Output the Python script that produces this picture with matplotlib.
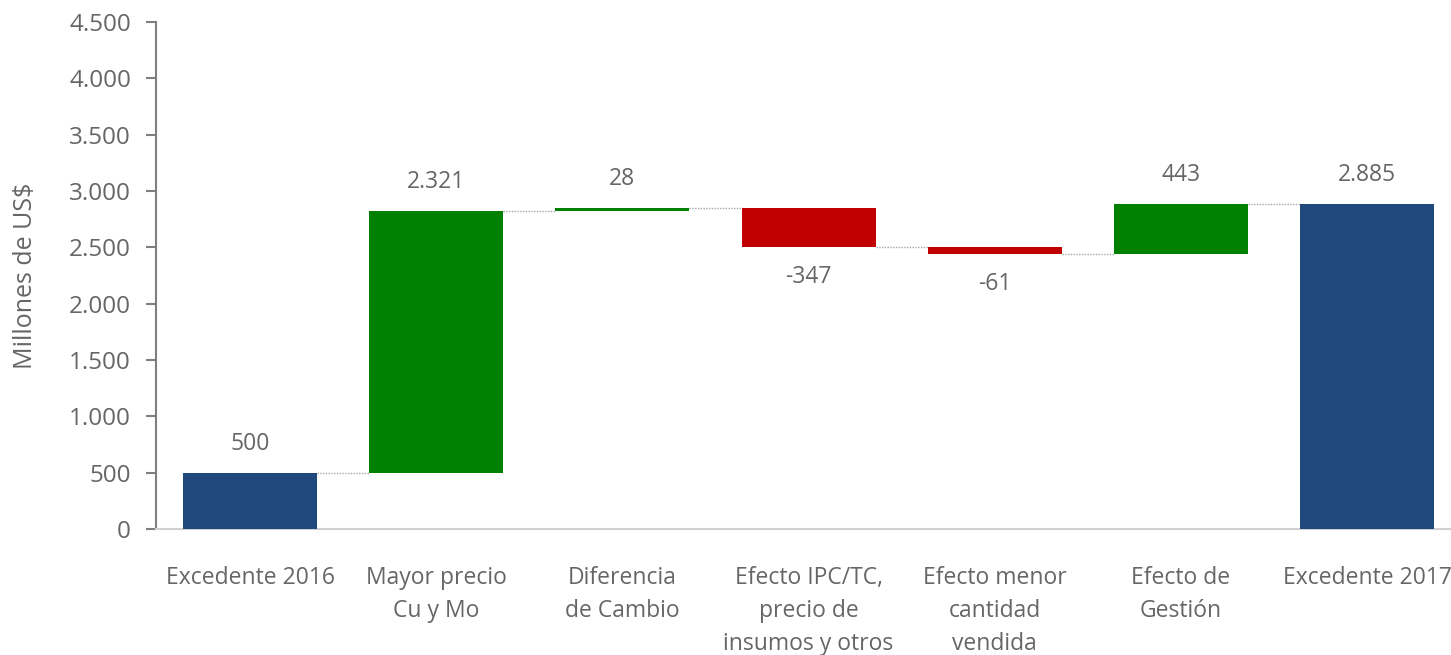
import matplotlib.pyplot as plt
from matplotlib.ticker import FuncFormatter

categories = [
    "Excedente 2016",
    "Mayor precio\nCu y Mo",
    "Diferencia\nde Cambio",
    "Efecto IPC/TC,\nprecio de\ninsumos y otros",
    "Efecto menor\ncantidad\nvendida",
    "Efecto de\nGestión",
    "Excedente 2017",
]
values = [500, 2321, 28, -347, -61, 443, 2885]
is_total = [True, False, False, False, False, False, True]

BLUE = "#1f497d"
GREEN = "#008000"
RED = "#c00000"
TEXT = "#666666"


def fmt_thousands(v):
    s = f"{abs(int(round(v))):,}".replace(",", ".")
    return ("-" if v < 0 else "") + s


# compute bottoms/tops of each waterfall segment
bottoms, tops, colors = [], [], []
running = 0
for v, tot in zip(values, is_total):
    if tot:
        bottoms.append(0)
        tops.append(v)
        colors.append(BLUE)
        running = v
    else:
        start = running
        running = running + v
        bottoms.append(min(start, running))
        tops.append(max(start, running))
        colors.append(GREEN if v >= 0 else RED)

plt.rcParams["font.family"] = ["Open Sans", "DejaVu Sans"]

fig = plt.figure(figsize=(14.51, 6.55), dpi=100)
ax = fig.add_axes([0.1075, 0.1924, 0.8995, 0.774])

x = list(range(len(categories)))
width = 0.72
heights = [t - b for t, b in zip(tops, bottoms)]
ax.bar(x, heights, bottom=bottoms, width=width, color=colors, zorder=3)

# connector lines between consecutive bars
level = 0
for i in range(len(values) - 1):
    if is_total[i]:
        level = values[i]
    else:
        level = level + values[i]
    ax.plot([i + width / 2, i + 1 - width / 2], [level, level],
            color="#a6a6a6", lw=1, ls=(0, (1, 1)), zorder=2)

# value labels
for i, v in enumerate(values):
    if v >= 0:
        ax.annotate(fmt_thousands(v), (i, tops[i]), xytext=(0, 12),
                    textcoords="offset points", ha="center", va="bottom",
                    fontsize=16.5, color=TEXT)
    else:
        ax.annotate(fmt_thousands(v), (i, bottoms[i]), xytext=(0, -13),
                    textcoords="offset points", ha="center", va="top",
                    fontsize=16.5, color=TEXT)

ax.set_xlim(-0.505, 6.505)
ax.set_ylim(0, 4500)
ax.set_yticks(range(0, 4501, 500))
ax.yaxis.set_major_formatter(FuncFormatter(lambda v, p: fmt_thousands(v)))
ax.set_xticks(x)
ax.set_xticklabels(categories, fontsize=16.5, color=TEXT, linespacing=1.5)
ax.tick_params(axis="x", length=0, pad=27)
ax.tick_params(axis="y", length=7, width=1.5, color="#808080", labelsize=17.5,
               labelcolor=TEXT, pad=11)
for lbl in ax.get_xticklabels():
    lbl.set_verticalalignment("top")

ax.set_ylabel("Millones de US$", fontsize=18, color=TEXT, labelpad=22)

for side in ["top", "right"]:
    ax.spines[side].set_visible(False)
ax.spines["left"].set_color("#808080")
ax.spines["left"].set_linewidth(1.5)
ax.spines["bottom"].set_color("#d0d0d0")
ax.spines["bottom"].set_linewidth(1.5)

fig.savefig("out.png", dpi=100)
